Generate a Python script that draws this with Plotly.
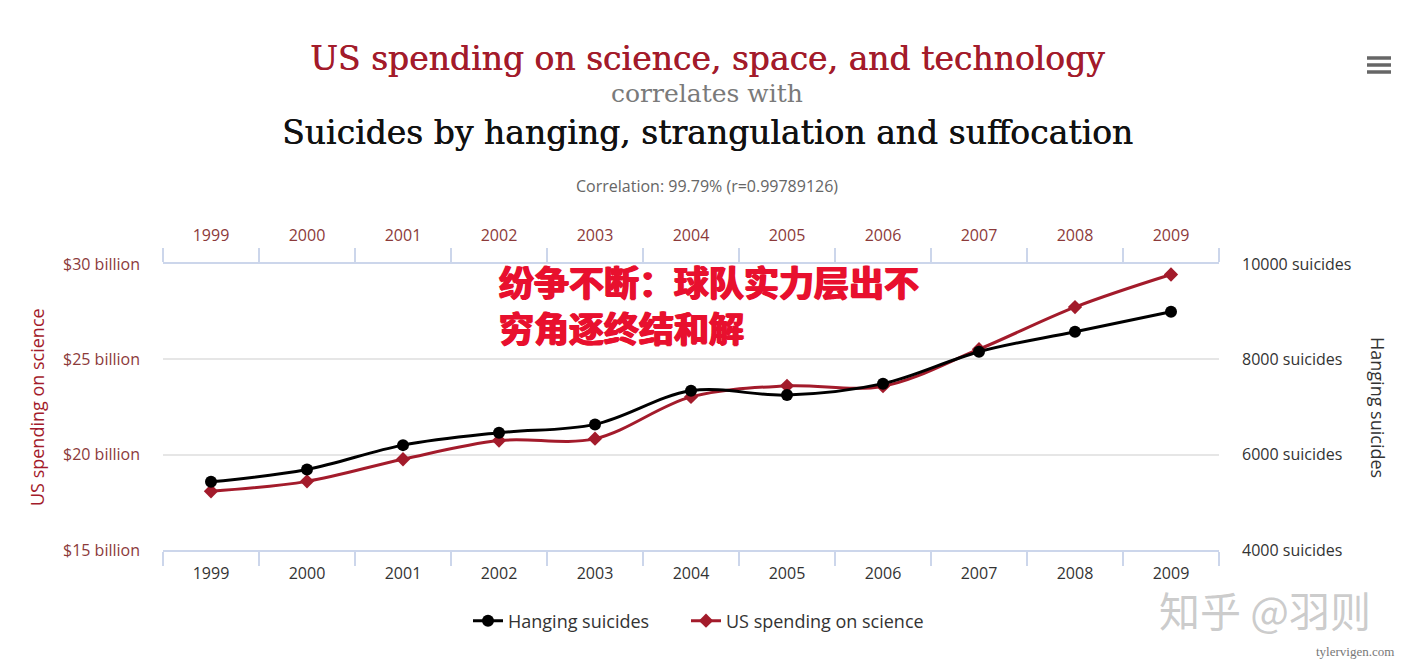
import plotly.graph_objects as go

years = ["1999", "2000", "2001", "2002", "2003", "2004", "2005", "2006", "2007", "2008", "2009"]
spending = [18.08, 18.60, 19.76, 20.74, 20.84, 23.03, 23.61, 23.59, 25.53, 27.74, 29.45]
suicides = [5430, 5690, 6200, 6460, 6635, 7340, 7250, 7490, 8160, 8580, 9000]

title1 = "US spending on science, space, and technology"
title2 = "correlates with"
title3 = "Suicides by hanging, strangulation and suffocation"
corr_text = "Correlation: 99.79% (r=0.99789126)"
overlay_lines = ["纷争不断：球队实力层出不", "穷角逐终结和解"]

W, H = 1412, 663
L, R, T, B = 163, 1219, 264, 550

def px(x, y):
    return (x - L) / (R - L), (B - y) / (B - T)

RED = "#a31b2b"
AXRED = "#8c3a3a"
GREY = "#333333"
AXLINE = "#ccd6eb"

fig = go.Figure()
fig.add_trace(go.Scatter(
    x=years, y=suicides, name="Hanging suicides", mode="lines+markers",
    xaxis="x2", yaxis="y2", legend="legend",
    line=dict(color="black", width=3, shape="spline"),
    marker=dict(symbol="circle", size=12, color="black"),
))
fig.add_trace(go.Scatter(
    x=years, y=spending, name="US spending on science", mode="lines+markers",
    legend="legend2",
    line=dict(color=RED, width=3, shape="spline"),
    marker=dict(symbol="diamond", size=11, color=RED),
))

tick_font = dict(family="Open Sans", size=16)
leg_font = dict(family="Open Sans", size=18, color=GREY)

fig.update_layout(
    width=W, height=H,
    margin=dict(l=L, r=W - R, t=T, b=H - B),
    paper_bgcolor="white", plot_bgcolor="white",
    showlegend=True,
    legend=dict(orientation="h", x=px(468, 0)[0], xanchor="left", y=px(0, 621)[1], yanchor="middle",
                font=leg_font, itemwidth=30, bgcolor="rgba(0,0,0,0)"),
    legend2=dict(orientation="h", x=px(686, 0)[0], xanchor="left", y=px(0, 621)[1], yanchor="middle",
                 font=leg_font, itemwidth=30, bgcolor="rgba(0,0,0,0)"),
    xaxis=dict(type="category", range=[-0.5, 10.5], showline=True, linecolor=AXLINE, linewidth=1.5,
               ticks="outside", tickson="boundaries", ticklen=14, tickcolor=AXLINE, tickwidth=1.5,
               showgrid=False, tickfont=dict(tick_font, color=GREY), side="bottom",
               ticklabelstandoff=8),
    xaxis2=dict(type="category", range=[-0.5, 10.5], overlaying="x", side="top", matches="x",
                showline=True, linecolor=AXLINE, linewidth=1.5,
                ticks="outside", tickson="boundaries", ticklen=14, tickcolor=AXLINE, tickwidth=1.5,
                showgrid=False, tickfont=dict(tick_font, color=AXRED), ticklabelstandoff=15),
    yaxis=dict(range=[15, 30], dtick=5, tick0=15, tickprefix="$", ticksuffix=" billion",
               showgrid=True, gridcolor="#e6e6e6", gridwidth=1.5, zeroline=False,
               tickfont=dict(tick_font, color=AXRED), ticklabelstandoff=22),
    yaxis2=dict(range=[4000, 10000], dtick=2000, tick0=4000, ticksuffix=" suicides", tickformat="d",
                overlaying="y", side="right", showgrid=False, zeroline=False,
                tickfont=dict(tick_font, color=GREY), ticklabelstandoff=22),
)

ann = []
def add_text(x, y, text, size, color, family, xanchor="center", angle=0, yanchor="middle", **kw):
    px_, py_ = px(x, y)
    ann.append(dict(x=px_, y=py_, xref="paper", yref="paper", text=text, showarrow=False,
                    xanchor=xanchor, yanchor=yanchor, textangle=angle,
                    font=dict(size=size, color=color, family=family, **kw)))

add_text(707, 58, title1, 33, RED, "DejaVu Serif", shadow="0.5px 0 0 " + RED)
add_text(707, 93, title2, 25, "#7a7a7a", "DejaVu Serif")
add_text(707, 132, title3, 33, "#111111", "DejaVu Serif", shadow="0.5px 0 0 #111111")
add_text(707, 186, corr_text, 16, "#666666", "Open Sans")
add_text(37, 407, "US spending on science", 18, RED, "Open Sans", angle=-90)
add_text(1378, 407, "Hanging suicides", 18, GREY, "Open Sans", angle=90)
shadow = "1px 0 0 #e8102e, -1px 0 0 #e8102e, 0 1px 0 #e8102e"
add_text(497, 280, "<b>" + overlay_lines[0] + "</b>", 35, "#e8102e", "Noto Sans CJK SC",
         xanchor="left", weight=900, shadow=shadow)
add_text(497, 326, "<b>" + overlay_lines[1] + "</b>", 35, "#e8102e", "Noto Sans CJK SC",
         xanchor="left", weight=900, shadow=shadow)
add_text(1265, 609, "知乎 @羽则", 41, "rgba(160,160,160,0.55)", "Noto Sans CJK SC")
add_text(1396, 651, "tylervigen.com", 13, "#777777", "Liberation Sans Narrow", xanchor="right")
fig.update_layout(annotations=ann)

shapes = []
for yy in (58, 65, 72):
    x0, y0 = px(1367, yy)
    x1, _ = px(1391, yy)
    shapes.append(dict(type="line", xref="paper", yref="paper", x0=x0, x1=x1, y0=y0, y1=y0,
                       line=dict(color="#666666", width=3.5)))
fig.update_layout(shapes=shapes)

fig.write_html("out.html", config={"displayModeBar": False},
               post_script="document.body.style.margin='0';document.body.style.overflow='hidden';")
